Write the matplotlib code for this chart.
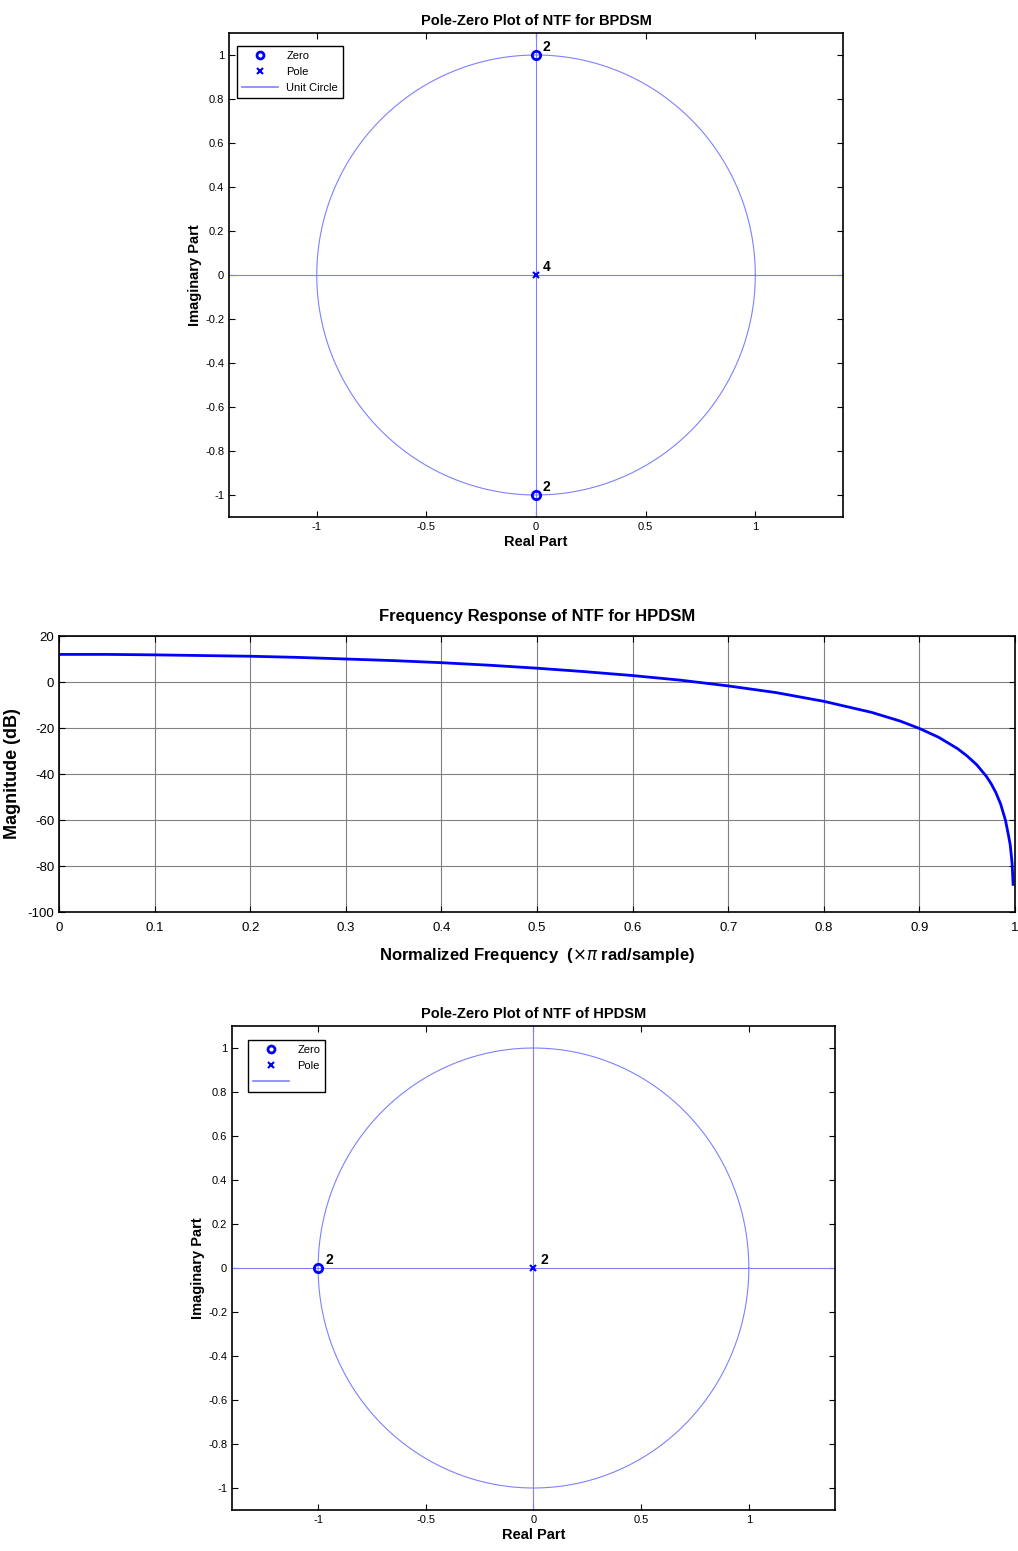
import numpy as np
import matplotlib
matplotlib.use("Agg")
import matplotlib.pyplot as plt
from matplotlib.lines import Line2D

plt.rcParams['font.family'] = ['Liberation Sans', 'DejaVu Sans']

# --- data ---
bp_zeros = [(0.0, 1.0), (0.0, -1.0)]
bp_zero_mult = ['2', '2']
bp_poles = [(0.0, 0.0)]
bp_pole_mult = ['4']

hp_zeros = [(-1.0, 0.0)]
hp_zero_mult = ['2']
hp_poles = [(0.0, 0.0)]
hp_pole_mult = ['2']

freq = [0.0, 0.05, 0.1, 0.15, 0.2, 0.25, 0.3, 0.35, 0.4, 0.45, 0.5, 0.55, 0.6,
        0.65, 0.7, 0.75, 0.8, 0.85, 0.88, 0.9, 0.92, 0.94, 0.95, 0.96, 0.97,
        0.975, 0.98, 0.985, 0.99, 0.993, 0.995, 0.997, 0.998]
mag_db = [12.0, 12.0, 11.8, 11.5, 11.2, 10.7, 10.0, 9.3, 8.4, 7.3, 6.0, 4.5, 2.8,
          0.8, -1.7, -4.6, -8.4, -13.2, -17.0, -20.2, -24.0, -29.0, -32.2, -36.0, -41.0,
          -44.2, -48.1, -53.1, -60.1, -66.3, -70.8, -79.0, -88.0]

pz_xticks = [-1, -0.5, 0, 0.5, 1]
pz_yticks = [-1, -0.8, -0.6, -0.4, -0.2, 0, 0.2, 0.4, 0.6, 0.8, 1]
fr_xticks = [0, 0.1, 0.2, 0.3, 0.4, 0.5, 0.6, 0.7, 0.8, 0.9, 1]
fr_yticks = [-100, -80, -60, -40, -20, 0, 20]

CIRC = '#8080ff'
MARK = '#0000ff'


def style_box(ax, size, pad=3.5):
    ax.tick_params(direction='in', top=True, right=True, length=4, width=0.8,
                   labelsize=size, pad=pad)
    for s in ax.spines.values():
        s.set_linewidth(1.2)


def pole_zero(ax, zeros, zmult, poles, pmult, title, labels, leg_anchor):
    th = np.linspace(0, 2 * np.pi, 400)
    ax.plot(np.cos(th), np.sin(th), color=CIRC, lw=0.8)
    ax.axhline(0, color=CIRC, lw=0.8)
    ax.axvline(0, color=CIRC, lw=0.8)
    zx, zy = zip(*zeros)
    px, py = zip(*poles)
    ax.plot(zx, zy, 'o', mfc='none', mec=MARK, mew=2, ms=6)
    ax.plot(px, py, 'x', color=MARK, mew=1.5, ms=5)
    for (x, y), m in list(zip(zeros, zmult)) + list(zip(poles, pmult)):
        ax.annotate(m, (x, y), xytext=(5, 3), textcoords='offset points',
                    fontsize=10, fontweight='bold')
    ax.set_xlim(-1.4, 1.4)
    ax.set_ylim(-1.1, 1.1)
    ax.set_xticks(pz_xticks)
    ax.set_xticklabels(['%g' % v for v in pz_xticks])
    ax.set_yticks(pz_yticks)
    ax.set_yticklabels(['%g' % v for v in pz_yticks])
    style_box(ax, 8)
    ax.set_title(title, fontsize=10.5, fontweight='bold', pad=6)
    ax.set_xlabel('Real Part', fontsize=10.5, fontweight='bold', labelpad=2)
    ax.set_ylabel('Imaginary Part', fontsize=10.5, fontweight='bold', labelpad=2)
    handles = [
        Line2D([], [], ls='none', marker='o', mfc='none', mec=MARK, mew=2, ms=5),
        Line2D([], [], ls='none', marker='x', color=MARK, mew=1.5, ms=4),
        Line2D([], [], color=CIRC, lw=1.2),
    ]
    leg = ax.legend(handles, labels, loc='upper left', fontsize=8,
                    bbox_to_anchor=leg_anchor, borderaxespad=0,
                    fancybox=False, framealpha=1, edgecolor='black',
                    handlelength=3.2, labelspacing=0.55, borderpad=0.45)
    leg.get_frame().set_linewidth(1.0)


fig = plt.figure(figsize=(10.18, 15.51), dpi=100)

ax1 = fig.add_axes([0.2250, 0.66667, 0.6031, 0.31205])
pole_zero(ax1, bp_zeros, bp_zero_mult, bp_poles, bp_pole_mult,
          'Pole-Zero Plot of NTF for BPDSM', ['Zero', 'Pole', 'Unit Circle'],
          (0.013, 0.973))

ax2 = fig.add_axes([0.05796, 0.41199, 0.9391, 0.17795])
ax2.plot(freq, mag_db, color='#0000ff', lw=2)
ax2.set_xlim(0, 1)
ax2.set_ylim(-100, 20)
ax2.set_xticks(fr_xticks)
ax2.set_xticklabels(['%g' % v for v in fr_xticks])
ax2.set_yticks(fr_yticks)
ax2.set_yticklabels(['%g' % v for v in fr_yticks])
ax2.grid(True, color='#808080', lw=0.8)
style_box(ax2, 9.5)
ax2.tick_params(axis='x', pad=7)
ax2.set_title('Frequency Response of NTF for HPDSM', fontsize=12,
              fontweight='bold', pad=11)
ax2.set_xlabel(r'Normalized Frequency  ($\times\pi$ rad/sample)', fontsize=12,
               fontweight='bold', labelpad=9)
ax2.set_ylabel('Magnitude (dB)', fontsize=13, fontweight='bold')
ax2.yaxis.set_label_coords(-0.04, 0.5)

ax3 = fig.add_axes([0.2279, 0.02643, 0.5923, 0.31206])
pole_zero(ax3, hp_zeros, hp_zero_mult, hp_poles, hp_pole_mult,
          'Pole-Zero Plot of NTF of HPDSM', ['Zero', 'Pole', ''],
          (0.0265, 0.971))

fig.savefig('out.png', dpi=100)
